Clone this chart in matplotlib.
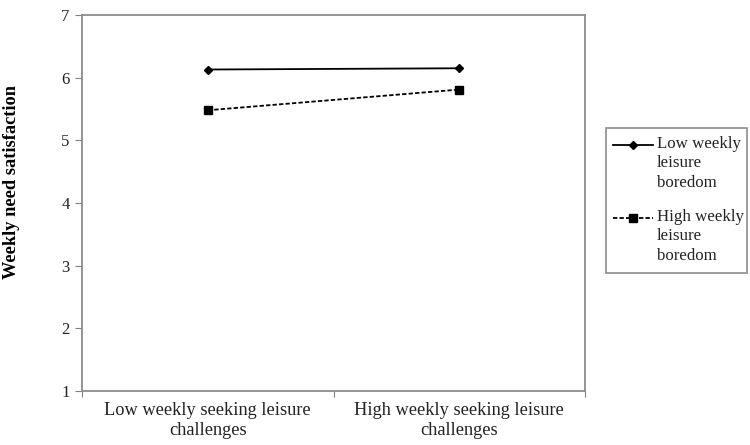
import matplotlib
matplotlib.use("Agg")
import matplotlib.pyplot as plt
from matplotlib.lines import Line2D
from matplotlib.patches import Rectangle

plt.rcParams['font.family'] = ['Liberation Serif', 'DejaVu Serif']

categories = ["Low weekly seeking leisure\nchallenges", "High weekly seeking leisure\nchallenges"]
low_boredom = [6.13, 6.15]
high_boredom = [5.48, 5.81]
series_labels = ["Low weekly\nleisure\nboredom", "High weekly\nleisure\nboredom"]
yticks = [1, 2, 3, 4, 5, 6, 7]

W, H = 750, 445
fig = plt.figure(figsize=(7.5, 4.45), dpi=100)
ax = fig.add_axes([82 / W, 1 - 391 / H, (585 - 82) / W, (391 - 15) / H])

xpos = [0.5, 1.5]
dash = (0, (2.4, 1.2))
ax.plot(xpos, low_boredom, color='black', lw=1.3, marker='D', markersize=4.5)
ax.plot(xpos, high_boredom, color='black', lw=1.3, ls=dash, marker='s', markersize=6)

ax.set_xlim(0, 2)
ax.set_ylim(1, 7)
ax.set_yticks(yticks)
ax.set_xticks([0, 1, 2])
ax.set_xticklabels([])
ax.set_xticks(xpos, minor=True)
ax.set_xticklabels(categories, minor=True, fontsize=13.2, linespacing=1.25, color='#222222')
ax.tick_params(axis='x', which='minor', length=0, pad=8)
ax.tick_params(axis='x', which='major', length=4, color='#808080', direction='out')
ax.tick_params(axis='y', length=5, color='#808080', labelsize=12, pad=4, labelcolor='#222222')
for s in ax.spines.values():
    s.set_color('#8c8c8c')
    s.set_linewidth(1.3)

fig.text(12 / W, 1 - 182 / H, "Weekly need satisfaction", rotation=90, fontsize=13.2,
         fontweight='bold', ha='center', va='center')

# legend box
fig.add_artist(Rectangle((606 / W, 1 - 273 / H), (747 - 606) / W, (273 - 128) / H,
                         transform=fig.transFigure, fill=False, edgecolor='#8c8c8c', lw=1.2))
entries = [(145, '-', 'D', 4.5, series_labels[0]), (218, dash, 's', 6, series_labels[1])]
for yy, ls, mk, ms, lab in entries:
    y = 1 - yy / H
    fig.add_artist(Line2D([613 / W, 653 / W], [y, y], transform=fig.transFigure,
                          color='black', lw=1.3, ls=ls))
    fig.add_artist(Line2D([633 / W], [y], transform=fig.transFigure, color='black',
                          marker=mk, markersize=ms))
    fig.text(657 / W, y + 9 / H, lab, fontsize=12.2, ha='left', va='top', linespacing=1.28,
             color='#222222')

fig.savefig("out.png", dpi=100)
